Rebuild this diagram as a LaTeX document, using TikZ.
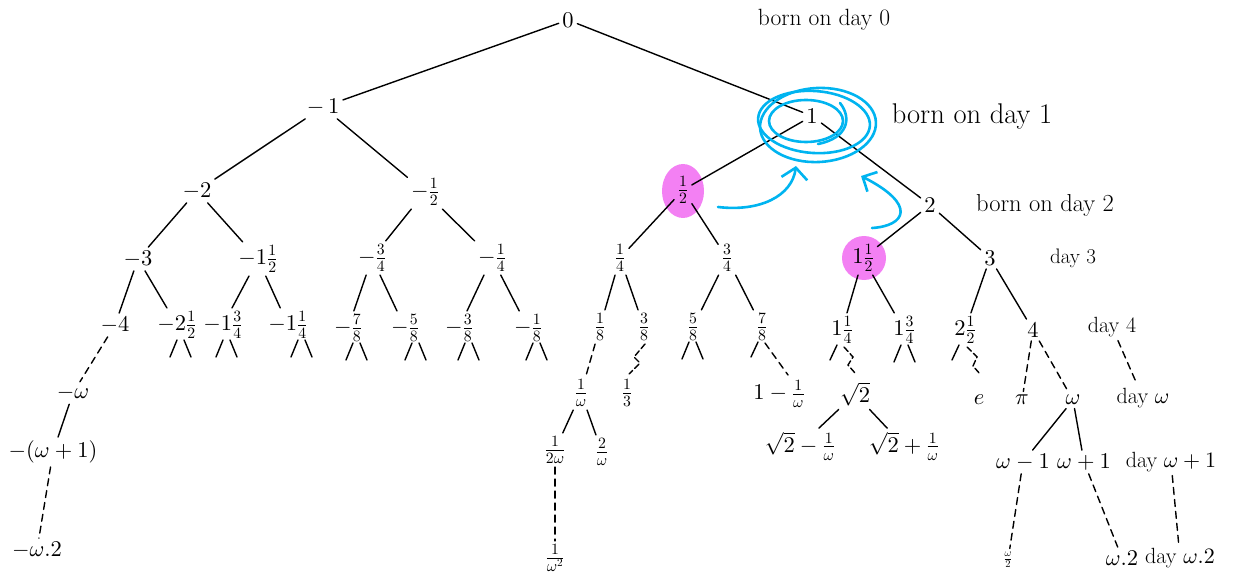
\documentclass[tikz,border=0pt]{standalone}
\DeclareFontShape{OT1}{cmr}{m}{n}{<->cmr10}{}
\DeclareFontShape{OML}{cmm}{m}{it}{<->cmmi10}{}
\DeclareFontShape{OMS}{cmsy}{m}{n}{<->cmsy10}{}
\DeclareFontShape{OMX}{cmex}{m}{n}{<->cmex10}{}
\usetikzlibrary{calc,arrows.meta}
\definecolor{hlpink}{RGB}{243,128,243}
\definecolor{penblue}{RGB}{0,180,240}
\newcommand\vstubs[2]{\draw[edge] ($(#1)+(#2-3,15)$) -- ++(-7,17); \draw[edge] ($(#1)+(#2+4,15)$) -- ++(7,17);}
\newcommand\lstub[2]{\draw[edge] ($(#1)+(#2-3,15)$) -- ++(-7,15);}
\begin{document}
\begin{tikzpicture}[x=1pt,y=-1pt,
  every node/.style={font=\fontsize{22.5}{26}\selectfont, inner sep=3.5pt},
  edge/.style={line width=1.4pt, line cap=round},
  dashedge/.style={edge, dash pattern=on 7pt off 5pt},
  zigedge/.style={edge, dash pattern=on 6pt off 3pt},
  pen/.style={penblue, line width=2.6pt, line cap=round},
  daylbl/.style={font=\fontsize{22}{26}\selectfont}]
\useasboundingbox (0,0) rectangle (1233,577);
% highlights
\fill[hlpink] (683,191) ellipse [x radius=21, y radius=27];
\fill[hlpink] (864,258) ellipse [x radius=22, y radius=22];
% nodes
\node (r0) at (568,20) {$0$};
\node[font=\fontsize{23.5}{26}\selectfont] (bd0) at (824,20) {born on day 0};
\node (m1) at (323,107) {$-\,1$};
\node (p1) at (812,116) {$1$};
\node[font=\fontsize{28.5}{30}\selectfont] (bd1) at (972,117) {born on day 1};
\node (m2) at (197,191) {$-2$};
\node (mh) at (425,192) {$-\frac12$};
\node (ph) at (683,190) {$\frac12$};
\node (p2) at (930,205) {$2$};
\node[font=\fontsize{24.5}{26}\selectfont] (bd2) at (1045,205) {born on day 2};
\node (m3) at (138,259) {$-3$};
\node (m1h) at (258,259) {$-1\frac12$};
\node (m34) at (372,258) {$-\frac34$};
\node (m14) at (492,258) {$-\frac14$};
\node (p14) at (620,258) {$\frac14$};
\node (p34) at (727,258) {$\frac34$};
\node (p1h) at (863,258) {$1\frac12$};
\node (p3) at (990,258) {$3$};
\node[font=\fontsize{21}{24}\selectfont] (d3) at (1073,258) {day 3};
% level 4
\node (m4) at (115,325) {$-4$};
\node (m2h) at (177,325) {$-2\frac12$};
\node (m134) at (223,325) {$-1\frac34$};
\node (m114) at (288,325) {$-1\frac14$};
\node (m78) at (348,328) {$-\frac78$};
\node (m58) at (405,328) {$-\frac58$};
\node (m38) at (459,328) {$-\frac38$};
\node (m18) at (528,328) {$-\frac18$};
\node (p18) at (600,327) {$\frac18$};
\node (p38) at (644,327) {$\frac38$};
\node (p58) at (693,327) {$\frac58$};
\node (p78) at (762,327) {$\frac78$};
\node (p114) at (842,330) {$1\frac14$};
\node (p134) at (904,330) {$1\frac34$};
\node (p2h) at (965,330) {$2\frac12$};
\node (p4) at (1033,330) {$4$};
\node[daylbl] (d4) at (1112,327) {day 4};
% level omega
\node (mw) at (73,393) {$-\omega$};
\node (p1w) at (581,393) {$\frac1\omega$};
\node (p13) at (627,393) {$\frac13$};
\node (p1mw) at (779,394) {$1-\frac1\omega$};
\node (sq2) at (855,394) {$\sqrt2$};
\node (ee) at (979,400) {$e$};
\node (pi) at (1022,400) {$\pi$};
\node (w) at (1073,400) {$\omega$};
\node[daylbl] (dw) at (1143,398) {day $\omega$};
% level omega+1
\node (mw1) at (53,452) {$-(\omega+1)$};
\node (p12w) at (555,450) {$\frac1{2\omega}$};
\node (p2w) at (602,452) {$\frac2\omega$};
\node (sqm) at (800,446) {$\sqrt2-\frac1\omega$};
\node (sqp) at (904,446) {$\sqrt2+\frac1\omega$};
\node (wm1) at (1023,462) {$\omega-1$};
\node (wp1) at (1084,462) {$\omega+1$};
\node[daylbl] (dw1) at (1171,462) {day $\omega+1$};
% level omega.2
\node (mw2) at (37,550) {$-\omega.2$};
\node (p1ww) at (555,558) {$\frac1{\omega^2}$};
\node[font=\fontsize{15}{16}\selectfont] (wh) at (1008,560) {$\frac\omega2$};
\node (w2) at (1122,558) {$\omega.2$};
\node[daylbl] (dw2) at (1180,558) {day $\omega.2$};
% solid edges
\draw[edge] (r0) -- (m1);
\draw[edge] (r0) -- (p1);
\draw[edge] (m1) -- (m2);
\draw[edge] (m1) -- (mh);
\draw[edge] (p1) -- (ph);
\draw[edge] (p1) -- (p2);
\draw[edge] (m2) -- (m3);
\draw[edge] (m2) -- (m1h);
\draw[edge] (mh) -- (m34);
\draw[edge] (mh) -- (m14);
\draw[edge] (ph) -- (p14);
\draw[edge] (ph) -- (p34);
\draw[edge] (p2) -- (p1h);
\draw[edge] (p2) -- (p3);
\draw[edge] (m3) -- (m4);
\draw[edge] (m3) -- (m2h);
\draw[edge] (m1h) -- (m134);
\draw[edge] (m1h) -- (m114);
\draw[edge] (m34) -- (m78);
\draw[edge] (m34) -- (m58);
\draw[edge] (m14) -- (m38);
\draw[edge] (m14) -- (m18);
\draw[edge] (p14) -- (p18);
\draw[edge] (p14) -- (p38);
\draw[edge] (p34) -- (p58);
\draw[edge] (p34) -- (p78);
\draw[edge] (p1h) -- (p114);
\draw[edge] (p1h) -- (p134);
\draw[edge] (p3) -- (p2h);
\draw[edge] (p3) -- (p4);
\draw[edge] (mw) -- (mw1);
\draw[edge] (p1w) -- (p12w);
\draw[edge] (p1w) -- (p2w);
\draw[edge] (sq2) -- (sqm);
\draw[edge] (sq2) -- (sqp);
\draw[edge] (w) -- (wm1);
\draw[edge] (w) -- (wp1);
% stubs
\vstubs{m2h}{3}
\vstubs{m134}{3}
\vstubs{m114}{13}
\vstubs{m78}{8}
\vstubs{m58}{10}
\vstubs{m38}{9}
\vstubs{m18}{8}
\vstubs{p58}{-1}
\vstubs{p134}{0}
\lstub{p78}{-1}
\lstub{p114}{-2}
\lstub{p2h}{-3}
% dashed edges
\draw[dashedge] (m4) -- (mw);
\draw[dashedge] (mw1) -- (mw2);
\draw[dashedge] (p18) -- (p1w);
\draw[dashedge] (p12w) -- (p1ww);
\draw[zigedge] ($(p38)+(1,17)$) -- ($(p38)+(-10,30)$) -- ($(p38)+(-4,36)$) -- ($(p13)+(2,-19)$);
\draw[dashedge] ($(p78)+(3,16)$) -- ($(p1mw)+(9,-19)$);
\draw[zigedge] ($(p114)+(2,17)$) -- ($(p114)+(11,27)$) -- ($(p114)+(6,35)$) -- ($(sq2)+(0,-21)$);
\draw[zigedge] ($(p2h)+(2,17)$) -- ($(p2h)+(12,27)$) -- ($(p2h)+(8,36)$) -- ($(ee)+(1,-26)$);
\draw[dashedge] (p4) -- (pi);
\draw[dashedge] (p4) -- (w);
\draw[dashedge] (d4) -- (dw);
\draw[dashedge] (wm1) -- (wh);
\draw[dashedge] (wp1) -- (w2);
\draw[dashedge] (dw1) -- (dw2);
% blue pen marks
\draw[pen] (806,121) ellipse [x radius=37, y radius=21];
\draw[pen, rotate around={-4:(814,122)}] (814,122) ellipse [x radius=56, y radius=31];
\draw[pen, rotate around={3:(818,125)}] (818,125) ellipse [x radius=58, y radius=37];
\draw[pen] (840,103) .. controls (852,118) and (848,138) .. (818,144);
\draw[pen, -{Straight Barb[length=11pt,width=26pt]}] (718,207) .. controls (760,212) and (792,196) .. (796,166);
\draw[pen, -{Straight Barb[length=11pt,width=22pt]}] (872,228) .. controls (905,226) and (918,205) .. (861,176);
\end{tikzpicture}
\end{document}
